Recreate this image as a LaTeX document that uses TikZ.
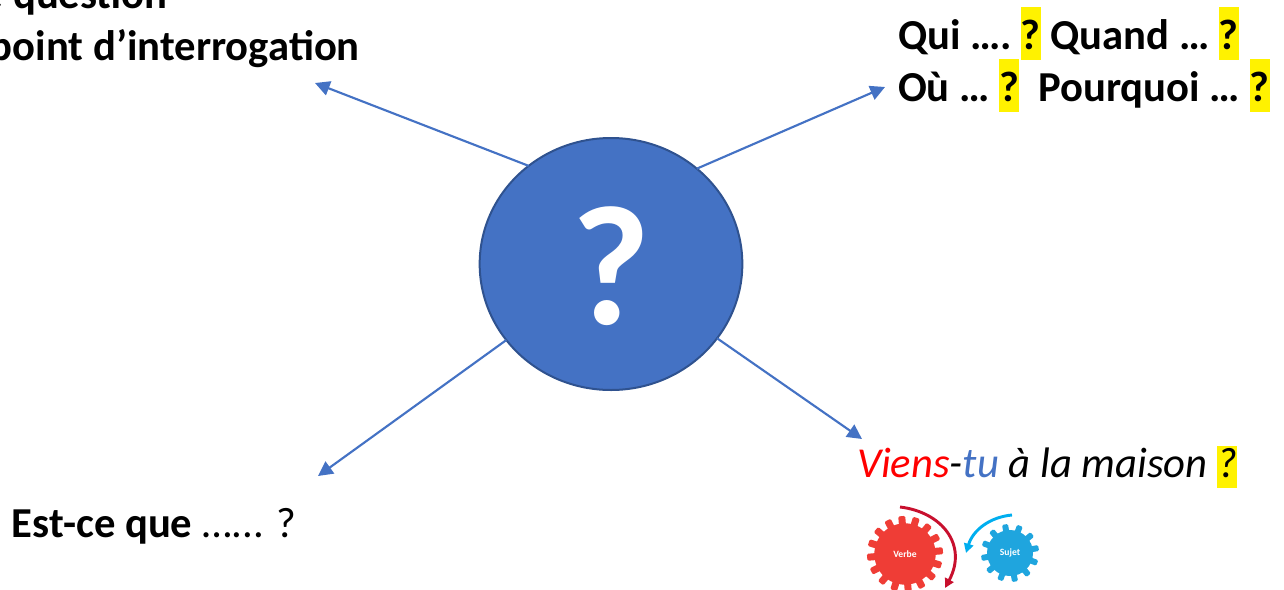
\documentclass[tikz,border=0pt]{standalone}
\usepackage{fontspec}
\setmainfont{Carlito}
\usetikzlibrary{arrows.meta,shapes.geometric}
\definecolor{accent}{HTML}{4472C4}
\definecolor{ringc}{HTML}{2F528F}
\definecolor{gearred}{HTML}{EF3D36}
\definecolor{gearblue}{HTML}{1FA5DE}
\definecolor{arcred}{HTML}{C8102E}
\definecolor{arcblue}{HTML}{00AEEF}
\newcommand{\hlq}[1]{\setbox0\hbox{#1}\rlap{\color{yellow}\rule[-0.26em]{\wd0}{1.25em}}\box0\relax}
\newcommand{\hlqshort}[1]{\setbox0\hbox{#1}\rlap{\color{yellow}\rule[-0.26em]{\wd0}{0.98em}}\box0\relax}
\tikzset{
  every node/.style={inner sep=0pt, outer sep=0pt},
  spoke/.style={draw=accent, line width=1.6pt, -{Triangle[length=11pt,width=11pt]}},
  txt/.style={anchor=base west, font=\fontsize{32}{39}\selectfont},
  gearlabel/.style={circle, text=white, font=\fontsize{7.2}{8}\selectfont\bfseries},
}
\begin{document}
\begin{tikzpicture}[x=0.75pt,y=-0.75pt]
\useasboundingbox (0,0) rectangle (1284,589);
\clip (0,0) rectangle (1284,589);
% central circle
\node[ellipse, fill=accent, draw=ringc, line width=1.5pt, minimum width=197pt, minimum height=189pt] (c) at (611,264) {};
\node[anchor=base, text=white, font=\fontsize{128}{128}\selectfont\bfseries] (q) at (611,324) {?};
% arrow ends
\coordinate (tl) at (315,83);
\coordinate (tr) at (885,87);
\coordinate (bl) at (318,476);
\coordinate (br) at (862,439);
\draw[spoke] (c.130.6) -- (tl);
\draw[spoke] (c.48.4) -- (tr);
\draw[spoke] (c.216.9) -- (bl);
\draw[spoke] (c.-35) -- (br);
% texts
\node[txt, font=\fontsize{32}{39}\selectfont\bfseries] (t1) at (-18,8) {e question};
\node[txt, font=\fontsize{32}{39}\selectfont\bfseries] (t2) at (-10,60) {point d’interrogation};
\node[txt, font=\fontsize{32}{39}\selectfont\bfseries] (t3) at (898,49) {Qui ….\kern-3pt{} \hlq{?} Quand … \hlq{?}};
\node[txt, font=\fontsize{32}{39}\selectfont\bfseries] (t4) at (898,101) {Où … \hlq{?}\ \ Pourquoi … \hlq{?}};
\node[txt] (t5) at (12,537) {\textbf{Est-ce que} …... ?};
\node[txt, font=\fontsize{32}{39}\selectfont\itshape] (t6) at (857,477) {\textcolor{red}{Viens}-\textcolor{accent}{tu} à la maison \hlqshort{?}};
% gears
\foreach \i in {0,...,15}
  \fill[gearred, rounded corners=1pt, rotate around={\i*22.5+5:(905,554)}] (901.5,516) rectangle (908.5,540);
\node[gearlabel, fill=gearred, minimum size=46pt] (verbe) at (905,554) {Verbe};
\foreach \i in {0,...,11}
  \fill[gearblue, rounded corners=1pt, rotate around={\i*30+10:(1010,553)}] (1007,524) rectangle (1013,540);
\node[gearlabel, fill=gearblue, minimum size=34.5pt] (sujet) at (1010,553) {Sujet};
% gear arcs
\coordinate (ra) at (900,507);
\coordinate (rb) at (945,588);
\coordinate (ba) at (1012,515);
\coordinate (bb) at (966,553);
\draw[arcred, line width=2.2pt, -{Triangle[length=7pt,width=7pt]}] (ra) .. controls (942,512) and (968,545) .. (rb);
\draw[arcblue, line width=2.2pt, -{Triangle[length=7pt,width=7pt]}] (ba) .. controls (990,517) and (973,530) .. (bb);
\end{tikzpicture}
\end{document}
